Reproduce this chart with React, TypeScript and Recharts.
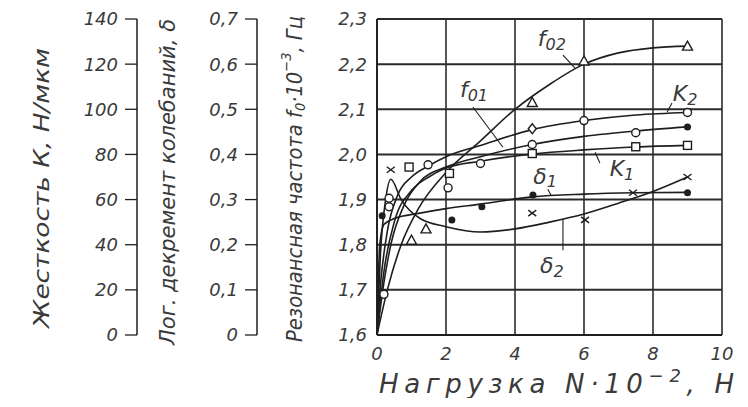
import React from "react";
import {
  ComposedChart,
  Line,
  Scatter,
  XAxis,
  YAxis,
  CartesianGrid,
  ReferenceLine,
  ReferenceDot,
} from "recharts";

const FONT = "'DejaVu Sans', 'Liberation Sans', sans-serif";
const INK = "#1e1e1e";
const TXT = "#3a3a3a";
const GRID = "#2b2b2b";

// id осей: порядок у левого края идёт по id
const F = "a_f";
const D = "b_d";
const K = "c_k";

// оси
const xTicks = [0, 2, 4, 6, 8, 10];
const fTicks = [1.6, 1.7, 1.8, 1.9, 2.0, 2.1, 2.2, 2.3];
const dTicks = [0, 0.1, 0.2, 0.3, 0.4, 0.5, 0.6, 0.7];
const kTicks = [0, 20, 40, 60, 80, 100, 120, 140];

// сглаженные кривые (нагрузка N·10^-2, Н)
const f02X = [0, 0.3, 0.7, 1.2, 2, 3, 4, 5, 6, 7, 8, 9];
const f02Y = [1.6, 1.7, 1.8, 1.88, 1.96, 2.03, 2.1, 2.155, 2.2, 2.225, 2.236, 2.24];
const f01X = [0, 0.15, 0.4, 0.8, 1.25, 2, 3, 4.5, 6, 7.5, 9];
const f01Y = [1.6, 1.69, 1.8, 1.89, 1.94, 1.972, 1.995, 2.022, 2.04, 2.052, 2.061];
const k2X = [0, 0.1, 0.3, 0.6, 1, 1.5, 2, 3, 4.5, 6, 7.5, 9];
const k2Y = [0, 22, 46, 62, 70, 75, 79, 84, 91, 95, 97.5, 98.6];
const k1X = [0, 0.2, 0.5, 1, 1.5, 2, 3, 4.5, 6, 7.5, 9];
const k1Y = [0, 28, 50, 64, 70, 74, 77, 80.2, 82, 83.3, 84];
const d1X = [0, 0.08, 0.2, 0.5, 1.25, 2, 3, 4.5, 6, 7.5, 9];
const d1Y = [0, 0.2, 0.245, 0.258, 0.27, 0.28, 0.29, 0.306, 0.312, 0.315, 0.316];
const d2X = [0, 0.1, 0.25, 0.4, 0.7, 1.25, 2, 3, 4, 5, 6, 7, 8, 9];
const d2Y = [0, 0.18, 0.3, 0.345, 0.3, 0.258, 0.24, 0.228, 0.235, 0.25, 0.268, 0.292, 0.318, 0.35];

// экспериментальные точки
const f02MarkX = [1.0, 1.42, 4.5, 6, 9];
const f02MarkY = [1.81, 1.835, 2.115, 2.207, 2.24];
const f01MarkX = [0.2, 0.35, 2.06, 3.0, 4.5, 7.5];
const f01MarkY = [1.69, 1.884, 1.926, 1.98, 2.022, 2.048];
const f01EndX = [9];
const f01EndY = [2.061];
const k2MarkX = [0.35, 1.48, 6, 9];
const k2MarkY = [60.6, 75.4, 95, 98.6];
const k2DiamX = [4.5];
const k2DiamY = [91.4];
const k1MarkX = [0.93, 2.1, 4.5, 7.5, 9];
const k1MarkY = [74.4, 71.6, 80.4, 83.4, 84];
const d1MarkX = [0.15, 2.17, 3.04, 4.52, 9];
const d1MarkY = [0.264, 0.255, 0.284, 0.31, 0.315];
const d2MarkX = [0.4, 4.5, 6.03, 7.42, 9];
const d2MarkY = [0.366, 0.27, 0.255, 0.315, 0.35];

// подписи кривых (в координатах частотной оси)
const notes = [
  { sym: "f", sub: "02", x: 5.07, y: 2.256, lx: [5.39, 5.74], ly: [2.22, 2.191] },
  { sym: "f", sub: "01", x: 2.81, y: 2.143, lx: [2.78, 3.65], ly: [2.105, 2.016] },
  { sym: "K", sub: "2", x: 8.93, y: 2.134, lx: [8.55, 8.41], ly: [2.114, 2.094] },
  { sym: "K", sub: "1", x: 7.1, y: 1.968, lx: [6.46, 6.32], ly: [1.981, 2.005] },
  { sym: "δ", sub: "1", x: 4.87, y: 1.952, lx: [4.95, 5.05], ly: [1.923, 1.909] },
  { sym: "δ", sub: "2", x: 5.07, y: 1.753, lx: [5.39, 5.39], ly: [1.788, 1.857] },
];

const zip = (xs: number[], ys: number[]) => xs.map((x, i) => ({ x, y: ys[i] }));

const mark = (kind: string) => (p: any) => {
  const { cx, cy } = p;
  if (cx == null || cy == null) return <g />;
  const s = { stroke: INK, strokeWidth: 1.4 };
  switch (kind) {
    case "tri":
      return <polygon points={`${cx},${cy - 5} ${cx - 5},${cy + 4} ${cx + 5},${cy + 4}`} fill="#fff" {...s} />;
    case "sq":
      return <rect x={cx - 4} y={cy - 4} width={8} height={8} fill="#fff" {...s} />;
    case "dia":
      return <polygon points={`${cx},${cy - 5} ${cx + 4},${cy} ${cx},${cy + 5} ${cx - 4},${cy}`} fill="#fff" {...s} />;
    case "dot":
      return <circle cx={cx} cy={cy} r={3.5} fill={INK} />;
    case "x":
      return (
        <g {...s}>
          <line x1={cx - 4} y1={cy - 3} x2={cx + 4} y2={cy + 3} />
          <line x1={cx - 4} y1={cy + 3} x2={cx + 4} y2={cy - 3} />
        </g>
      );
    default:
      return <circle cx={cx} cy={cy} r={4} fill="#fff" {...s} />;
  }
};

function VTitle({ viewBox, dx, dy, len, children }: any) {
  const cx = viewBox.x + dx;
  const cy = viewBox.y + viewBox.height / 2 + dy;
  return (
    <text
      x={cx}
      y={cy}
      transform={`rotate(-90 ${cx} ${cy})`}
      textAnchor="middle"
      dominantBaseline="central"
      textLength={len}
      lengthAdjust="spacingAndGlyphs"
      fontFamily={FONT}
      fontStyle="italic"
      fontSize={21}
      fill={TXT}
    >
      {children}
    </text>
  );
}

function XTitle({ viewBox }: any) {
  return (
    <text
      x={viewBox.x + 2}
      y={viewBox.y + 58}
      textLength={355}
      lengthAdjust="spacing"
      fontFamily={FONT}
      fontStyle="italic"
      fontSize={26}
      fill={TXT}
    >
      Нагрузка N·10<tspan dy={-11} fontSize={18}>−2</tspan>
      <tspan dy={11}>, Н</tspan>
    </text>
  );
}

const tickStyle = { fill: TXT, fontSize: 18, fontStyle: "italic", fontFamily: FONT };
const comma = (d: number) => (v: number) => (v === 0 ? "0" : v.toFixed(d).replace(".", ","));

export default function App() {
  return (
    <ComposedChart width={730} height={390} margin={{ top: 11, right: 16, bottom: 0, left: 9 }}>
      <CartesianGrid horizontal={false} verticalValues={xTicks} stroke={GRID} strokeWidth={1.6} />
      {/* горизонтальная сетка по частотной шкале */}
      {fTicks.map((v) => (
        <ReferenceLine key={`g${v}`} yAxisId={F} y={v} stroke={GRID} strokeWidth={2} ifOverflow="visible" />
      ))}
      <XAxis
        type="number"
        dataKey="x"
        domain={[0, 10]}
        ticks={xTicks}
        height={63}
        tickLine={false}
        tickSize={0}
        tickMargin={12}
        axisLine={{ stroke: INK, strokeWidth: 1.8 }}
        tick={tickStyle}
        label={<XTitle />}
      />
      <YAxis
        yAxisId={F}
        dataKey="y"
        domain={[1.6, 2.3]}
        ticks={fTicks}
        width={120}
        tickLine={false}
        tickSize={6}
        tickMargin={4}
        axisLine={{ stroke: INK, strokeWidth: 1.8 }}
        tick={tickStyle}
        tickFormatter={(v: number) => v.toFixed(1).replace(".", ",")}
        label={
          <VTitle dx={38} dy={2} len={326}>
            Резонансная частота f<tspan dy={5} fontSize={14}>0</tspan>
            <tspan dy={-5}>·10</tspan>
            <tspan dy={-9} fontSize={14}>−3</tspan>
            <tspan dy={9}>, Гц</tspan>
          </VTitle>
        }
      />
      <YAxis
        yAxisId={D}
        dataKey="y"
        domain={[0, 0.7]}
        ticks={dTicks}
        width={120}
        tickSize={12}
        tickMargin={7}
        tickLine={{ stroke: INK, strokeWidth: 1.3 }}
        axisLine={{ stroke: INK, strokeWidth: 1.5 }}
        tick={tickStyle}
        tickFormatter={comma(1)}
        label={
          <VTitle dx={31} dy={5} len={326}>
            Лог. декремент колебаний, δ
          </VTitle>
        }
      />
      <YAxis
        yAxisId={K}
        dataKey="y"
        domain={[0, 140]}
        ticks={kTicks}
        width={120}
        tickSize={12}
        tickMargin={7}
        tickLine={{ stroke: INK, strokeWidth: 1.3 }}
        axisLine={{ stroke: INK, strokeWidth: 1.5 }}
        tick={tickStyle}
        label={
          <VTitle dx={25} dy={11} len={280}>
            Жесткость К, Н/мкм
          </VTitle>
        }
      />

      <Line yAxisId={F} data={zip(f02X, f02Y)} dataKey="y" type="monotone" stroke={INK} strokeWidth={1.6} dot={false} isAnimationActive={false} />
      <Line yAxisId={F} data={zip(f01X, f01Y)} dataKey="y" type="monotone" stroke={INK} strokeWidth={1.6} dot={false} isAnimationActive={false} />
      <Line yAxisId={K} data={zip(k2X, k2Y)} dataKey="y" type="monotone" stroke={INK} strokeWidth={1.6} dot={false} isAnimationActive={false} />
      <Line yAxisId={K} data={zip(k1X, k1Y)} dataKey="y" type="monotone" stroke={INK} strokeWidth={1.6} dot={false} isAnimationActive={false} />
      <Line yAxisId={D} data={zip(d1X, d1Y)} dataKey="y" type="monotone" stroke={INK} strokeWidth={1.6} dot={false} isAnimationActive={false} />
      <Line yAxisId={D} data={zip(d2X, d2Y)} dataKey="y" type="monotone" stroke={INK} strokeWidth={1.6} dot={false} isAnimationActive={false} />

      <Scatter yAxisId={F} data={zip(f02MarkX, f02MarkY)} shape={mark("tri")} isAnimationActive={false} />
      <Scatter yAxisId={F} data={zip(f01MarkX, f01MarkY)} shape={mark("o")} isAnimationActive={false} />
      <Scatter yAxisId={F} data={zip(f01EndX, f01EndY)} shape={mark("dot")} isAnimationActive={false} />
      <Scatter yAxisId={K} data={zip(k2MarkX, k2MarkY)} shape={mark("o")} isAnimationActive={false} />
      <Scatter yAxisId={K} data={zip(k2DiamX, k2DiamY)} shape={mark("dia")} isAnimationActive={false} />
      <Scatter yAxisId={K} data={zip(k1MarkX, k1MarkY)} shape={mark("sq")} isAnimationActive={false} />
      <Scatter yAxisId={D} data={zip(d1MarkX, d1MarkY)} shape={mark("dot")} isAnimationActive={false} />
      <Scatter yAxisId={D} data={zip(d2MarkX, d2MarkY)} shape={mark("x")} isAnimationActive={false} />

      {notes.map((n, i) => (
        <ReferenceLine
          key={`l${i}`}
          yAxisId={F}
          ifOverflow="visible"
          segment={[
            { x: n.lx[0], y: n.ly[0] },
            { x: n.lx[1], y: n.ly[1] },
          ]}
          stroke={INK}
          strokeWidth={1.1}
        />
      ))}
      {notes.map((n, i) => (
        <ReferenceDot
          key={`t${i}`}
          yAxisId={F}
          x={n.x}
          y={n.y}
          r={1}
          ifOverflow="visible"
          shape={(p: any) => (
            <text
              x={p.cx}
              y={p.cy}
              textAnchor="middle"
              dominantBaseline="central"
              fontFamily={FONT}
              fontStyle="italic"
              fontSize={22}
              fill={TXT}
            >
              {n.sym}
              <tspan dy={5} fontSize={16}>
                {n.sub}
              </tspan>
            </text>
          )}
        />
      ))}
    </ComposedChart>
  );
}
